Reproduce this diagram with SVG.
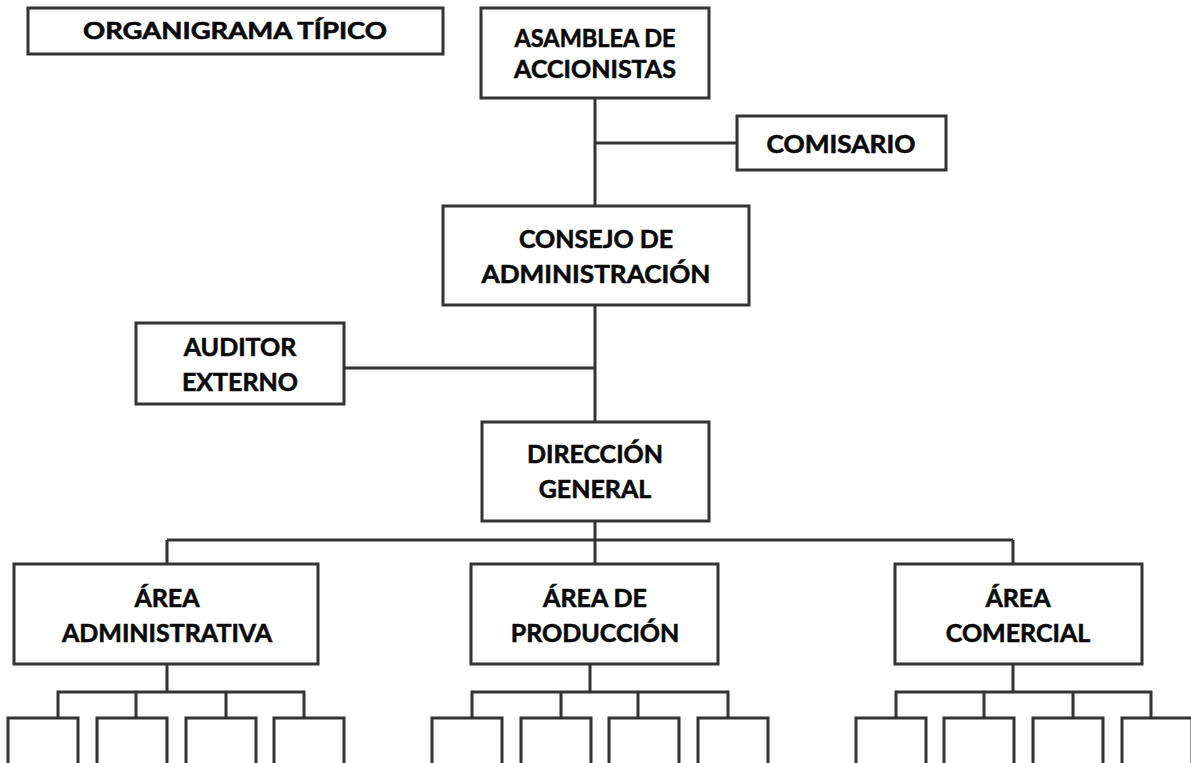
<svg xmlns="http://www.w3.org/2000/svg" width="1191" height="763" viewBox="0 0 1191 763">
<style>
rect{fill:#fff;stroke:#333;stroke-width:3}
.c line,.c path{stroke:#333;stroke-width:3;fill:none}
text{font-family:Lato,"Open Sans","Liberation Sans",sans-serif;font-weight:bold;font-size:25px;fill:#0a0a0a;stroke:#0a0a0a;stroke-width:0.6px;text-anchor:middle}
</style>
<rect width="1191" height="763" style="fill:#fff;stroke:none"/>
<g class="c" id="connectors">
<line x1="595" y1="98" x2="595" y2="206"/>
<line x1="595" y1="143" x2="737" y2="143"/>
<line x1="595" y1="305" x2="595" y2="422"/>
<line x1="344" y1="368" x2="595" y2="368"/>
<line x1="595" y1="521" x2="595" y2="540"/>
<line x1="167" y1="540" x2="1013" y2="540"/>
<line x1="167" y1="540" x2="167" y2="564"/>
<line x1="595" y1="540" x2="595" y2="564"/>
<line x1="1013" y1="540" x2="1013" y2="564"/>
<line x1="167" y1="664" x2="167" y2="692"/>
<path d="M58 718V692H304V718M136 692V718M226 692V718"/>
<line x1="590" y1="664" x2="590" y2="692"/>
<path d="M472 718V692H728V718M561 692V718M638 692V718"/>
<line x1="1013" y1="664" x2="1013" y2="692"/>
<path d="M896 718V692H1151V718M984 692V718M1073 692V718"/>
</g>
<g id="title"><rect x="28" y="8" width="415" height="46"/><text x="235" y="39" textLength="304" lengthAdjust="spacingAndGlyphs" style="font-size:23px">ORGANIGRAMA TÍPICO</text></g>
<g id="asamblea"><rect x="481" y="8" width="228" height="90"/><text x="595" y="47" textLength="161" lengthAdjust="spacingAndGlyphs">ASAMBLEA DE</text><text x="595" y="78">ACCIONISTAS</text></g>
<g id="comisario"><rect x="737" y="116" width="209" height="54"/><text x="841" y="153" textLength="149" lengthAdjust="spacingAndGlyphs">COMISARIO</text></g>
<g id="consejo"><rect x="443" y="206" width="306" height="99"/><text x="596" y="248">CONSEJO DE</text><text x="596" y="283" textLength="229" lengthAdjust="spacingAndGlyphs">ADMINISTRACIÓN</text></g>
<g id="auditor"><rect x="136" y="323" width="208" height="81"/><text x="240" y="356">AUDITOR</text><text x="240" y="391">EXTERNO</text></g>
<g id="direccion"><rect x="482" y="422" width="227" height="99"/><text x="595" y="463">DIRECCIÓN</text><text x="595" y="498">GENERAL</text></g>
<g id="area-admin"><rect x="14" y="564" width="304" height="100"/><text x="167" y="607">ÁREA</text><text x="167" y="642">ADMINISTRATIVA</text></g>
<g id="area-prod"><rect x="471" y="564" width="247" height="100"/><text x="595" y="607">ÁREA DE</text><text x="595" y="642">PRODUCCIÓN</text></g>
<g id="area-com"><rect x="895" y="564" width="247" height="100"/><text x="1018" y="607">ÁREA</text><text x="1018" y="642">COMERCIAL</text></g>
<g id="sub-admin-1"><rect x="8" y="718" width="70" height="60"/></g>
<g id="sub-admin-2"><rect x="97" y="718" width="70" height="60"/></g>
<g id="sub-admin-3"><rect x="186" y="718" width="70" height="60"/></g>
<g id="sub-admin-4"><rect x="274" y="718" width="70" height="60"/></g>
<g id="sub-prod-1"><rect x="432" y="718" width="70" height="60"/></g>
<g id="sub-prod-2"><rect x="521" y="718" width="70" height="60"/></g>
<g id="sub-prod-3"><rect x="609" y="718" width="70" height="60"/></g>
<g id="sub-prod-4"><rect x="698" y="718" width="70" height="60"/></g>
<g id="sub-com-1"><rect x="856" y="718" width="70" height="60"/></g>
<g id="sub-com-2"><rect x="944" y="718" width="70" height="60"/></g>
<g id="sub-com-3"><rect x="1033" y="718" width="70" height="60"/></g>
<g id="sub-com-4"><rect x="1122" y="718" width="70" height="60"/></g>
</svg>
